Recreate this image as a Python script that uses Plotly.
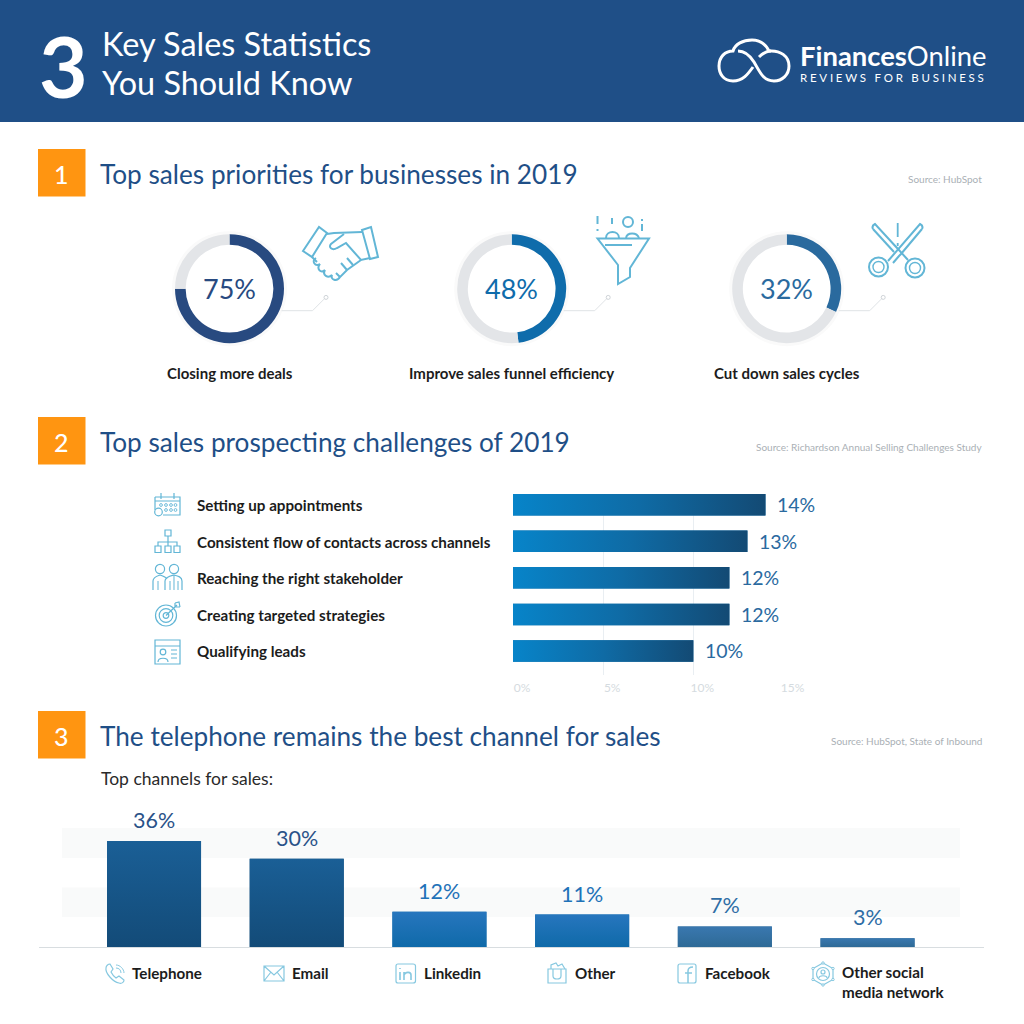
import re
import plotly.graph_objects as go

# ---------- data ----------
priority_labels = ["Closing more deals", "Improve sales funnel efficiency", "Cut down sales cycles"]
priority_values = [75, 48, 32]
priority_colors = ["#284a80", "#0f6cab", "#2a6a9e"]

challenge_labels = ["Setting up appointments", "Consistent flow of contacts across channels",
                    "Reaching the right stakeholder", "Creating targeted strategies", "Qualifying leads"]
challenge_values = [14, 13, 12, 12, 10]
challenge_ticks = [0, 5, 10, 15]

channel_labels = ["Telephone", "Email", "Linkedin", "Other", "Facebook", "Other social<br>media network"]
channel_values = [36, 30, 12, 11, 7, 3]
channel_top = ["#1a5f96", "#1a5f96", "#2776be", "#2776be", "#3a78b0", "#3a78b0"]
channel_bottom = ["#134b78", "#134b78", "#0f6aa9", "#0f6aa9", "#2e6a96", "#2e6a96"]
channel_text = ["#2a5288", "#2a5288", "#1f72b8", "#1f72b8", "#2f6da5", "#2f6da5"]
channel_label_x = [132, 292, 424, 575, 705, 842]

section_titles = ["Top sales priorities for businesses in 2019",
                  "Top sales prospecting challenges of 2019",
                  "The telephone remains the best channel for sales"]
section_sources = ["Source: HubSpot", "Source: Richardson Annual Selling Challenges Study",
                   "Source: HubSpot, State of Inbound"]

# ---------- helpers (page pixels -> paper) ----------
S = 1024.0
FONT = "Lato"
NAVY = "#1f4f87"
ICON = "#62b6d6"
ICON2 = "#86c8e0"
PAD = 2  # annotation box padding, compensated for edge-anchored text
shapes, annos = [], []


def fx(x):
    return x / S


def fy(y):
    return 1 - y / S


def txt(x, y, text, size, color, anchor="left", weight=None, bold=False):
    f = dict(family=FONT, size=size, color=color)
    if weight:
        f["weight"] = weight
    if bold:
        f["weight"] = 700
    shift = {"left": -PAD, "right": PAD, "center": 0}[anchor]
    annos.append(dict(xref="paper", yref="paper", x=fx(x + shift), y=fy(y), text=text, showarrow=False,
                      xanchor=anchor, yanchor="middle", font=f, align="left"))


def rect(x0, y0, x1, y1, fill, layer="below"):
    shapes.append(dict(type="rect", xref="paper", yref="paper", x0=fx(x0), x1=fx(x1), y0=fy(y0), y1=fy(y1),
                       fillcolor=fill, line=dict(width=0), layer=layer))


def path(d, color=ICON, w=1.2, fill=None):
    toks = re.findall(r"[MLCZ]|-?[\d.]+", d)
    out, i = [], 0
    for t in toks:
        if t in "MLCZ":
            out.append(t)
        else:
            out.append(f"{fx(float(t)):.5f}" if i % 2 == 0 else f"{fy(float(t)):.5f}")
            i += 1
    shapes.append(dict(type="path", xref="paper", yref="paper", path=" ".join(out),
                       line=dict(color=color, width=w), fillcolor=fill or "rgba(0,0,0,0)", layer="above"))


def circ(cx, cy, r, color=ICON, w=1.2, fill=None, layer="above"):
    shapes.append(dict(type="circle", xref="paper", yref="paper", x0=fx(cx - r), x1=fx(cx + r),
                       y0=fy(cy + r), y1=fy(cy - r), line=dict(color=color, width=w),
                       fillcolor=fill or "rgba(0,0,0,0)", layer=layer))


fig = go.Figure()

# ---------- header ----------
rect(0, 0, 1024, 122, NAVY)
txt(39, 65, "3", 84, "#ffffff", bold=True)
txt(102, 43, "Key Sales Statistics", 32.4, "#ffffff")
txt(102, 82, "You Should Know", 32.4, "#ffffff")
txt(800, 55, "<b>Finances</b>Online", 27.4, "#ffffff")
txt(800, 77, '<span style="letter-spacing:2.75px">REVIEWS FOR BUSINESS</span>', 11.5, "#ffffff")
path("M733 81 C723 81 719 73 719 66 C719 57 725 51 733 51 C735 44 743 40 752 40 C760 40 766 45 769 51 "
     "C780 50 789 56 789 66 C789 75 782 81 774 81 C763 81 760 72 754 62 C749 54 744 51 738 51", "#ffffff", 3)
path("M733 81 C743 81 748 74 753 67", "#ffffff", 3)
path("M759 57 C763 53 767 51 771 51", "#ffffff", 3)

# ---------- section headers ----------
for i, (top, title, src) in enumerate(zip([149, 417, 711], section_titles, section_sources)):
    rect(38, top, 85.5, top + 47.5, "#ff9511")
    txt(61.7, top + 25, str(i + 1), 25, "#ffffff", anchor="center", weight=500)
    txt(100, top + 25, title, 26.2, NAVY)
    txt(982, top + 30, src, 10, "#aab0b5", anchor="right")

# ---------- donuts ----------
centers = [229.5, 511.7, 786.7]
CY, R = 288.7, 54.5
for cx, val, col, lab in zip(centers, priority_values, priority_colors, priority_labels):
    circ(cx, CY, R + 3, "#fafafa", 0, "#fafafa", layer="below")
    circ(cx, CY, R - 8, "#ffffff", 0, "#ffffff", layer="below")
    fig.add_trace(go.Pie(values=[val, 100 - val], sort=False, direction="clockwise", rotation=0,
                         hole=0.805, textinfo="none", hoverinfo="skip", showlegend=False,
                         marker=dict(colors=[col, "#e3e5e8"], line=dict(width=0)),
                         domain=dict(x=[fx(cx - R), fx(cx + R)], y=[fy(CY + R), fy(CY - R)])))
    txt(cx, CY, f"{val}%", 27, col, anchor="center")
    txt(cx, 373, lab, 15, "#1c1c1c", anchor="center", bold=True)
    path(f"M{cx + 52} {CY + 22} L{cx + 83} {CY + 22} L{cx + 95} {CY + 10}", "#dfe3e6", 1)
    circ(cx + 96.5, CY + 8.7, 2, "#cfd4d8", 1)

# handshake
path("M303 251 L319 227 L327 233 L312 257 Z", ICON, 2)
path("M362 230 L371 227 L378 257 L370 259 Z", ICON, 2)
path("M327 234 L334 233 L362 232", ICON, 2)
path("M370 258 L361 260 L346 243 L337 248 C332 251 328 247 331 244 L344 234", ICON, 2)
path("M312 257 L317 262", ICON, 2)
path("M316 258 C311 261 315 267 320 264 C316 269 321 274 325 270 C322 275 328 279 332 275 C330 280 337 282 340 277 L347 270 L361 260", ICON, 2)
path("M340 277 L336 273 M347 270 L341 263 M353 265 L347 258", ICON, 2)
# funnel
path("M597.5 238.5 L649 238.5 L630 268 L630 277 L618 284 L618 265 Z", ICON, 2)
path("M605 245 L632 245", ICON, 2)
path("M606 238 C606 230 619 230 619 238", ICON, 2)
path("M626 238 C627 232 637 232 639 238", ICON, 2)
circ(628, 222, 5, ICON, 2)
path("M597.5 216 L597.5 224 M597.5 229 L597.5 231", ICON, 2)
path("M642 219 L642 221 M642 224 L642 231 M612 218 L612 224", ICON, 2)
# scissors
path("M873 229 C872 227 873 225 875 224 L898 249 L908 260", ICON, 2)
path("M873 229 L894 252", ICON, 2)
path("M922 229 C923 227 922 225 920 224 L888 261", ICON, 2)
path("M922 229 L901 254 L899 256 L893 263", ICON, 2)
circ(878.5, 267, 9.5, ICON, 2)
circ(878.5, 267, 5.5, ICON, 1.4)
circ(915, 268, 9.5, ICON, 2)
circ(915, 268, 5.5, ICON, 1.4)
path("M897.7 223 L897.7 237 M897.7 243 L897.7 246", ICON, 1.8)

# ---------- small icons, row list ----------
for y, lab in zip([505, 541.5, 578, 614.5, 651], challenge_labels):
    txt(197, y, lab, 15.2, "#1c1c1c", bold=True)
# calendar
path("M155 497 L180 497 L180 515 L163 515 M155 497 L155 510 M155 501 L180 501", ICON)
path("M161 493 L161 499 M174 493 L174 499", ICON)
for cx_ in (161, 166, 171, 175.5):
    for cy_ in (505, 510):
        if not (cx_ == 161 and cy_ == 510):
            circ(cx_, cy_, 1.4, ICON, 0.9)
circ(158.5, 512, 3.8, ICON)
# org chart
path("M165 530 L171 530 L171 536 L165 536 Z M168 536 L168 542 M158 546 L158 542 L177 542 L177 546 M168 542 L168 546", ICON)
path("M155 546 L161 546 L161 552.5 L155 552.5 Z M165 546 L171 546 L171 552.5 L165 552.5 Z M174 546 L180 546 L180 552.5 L174 552.5 Z", ICON)
# people
circ(160, 569, 4.6, ICON)
circ(174, 569, 4.6, ICON)
path("M153 590 L153 581 C153 577 157 576 160 575 C163 576 166 577 167 579", ICON)
path("M165 590 L165 581 C165 577 170 576 174 575 C178 576 182 577 182 581 L182 590", ICON)
path("M158 581 L158 590 M170 581 L170 590 M178 581 L178 590 M174 575 L174 590", ICON, 1)
# target
circ(166, 615.5, 10.5, ICON)
circ(166, 615.5, 6.8, ICON)
circ(166, 615.5, 2.8, ICON)
path("M166 615.5 L177 605 M175 603 L175 607 L180 607 M175 603 L179 602 L180 607", ICON)
# lead card
path("M155 640 L180 640 L180 664 L155 664 Z M155 646 L180 646", ICON)
circ(163, 652, 2.8, ICON)
path("M158 662 C158 657 168 657 168 662 M171 650 L177 650 M171 654 L177 654 M171 658 L177 658", ICON)

# ---------- small icons, channels ----------
for x_, lab in zip(channel_label_x, channel_labels):
    txt(x_, 973 if "<br>" not in lab else 982, lab, 15.2, "#1c1c1c", bold=True)
# phone
path("M106 968 C105 973 113 982 119 983 C122 984 124 982 124 980 L119 976 L116 978 C113 976 112 974 111 972 L113 969 L110 964 C108 964 106 966 106 968 Z", ICON2)
path("M116 968 C119 968 121 970 121 973 M116 965 C120 965 124 969 124 973", ICON2, 1)
# email
path("M264 966 L284 966 L284 981 L264 981 Z M264 966 L274 975 L284 966 M264 981 L271 972 M284 981 L277 972", ICON2)
# linkedin
path("M398 964 L413 964 C415 964 415.5 965 415.5 966 L415.5 981 C415.5 982 415 983 413 983 L398 983 C397 983 396 982 396 981 L396 966 C396 965 397 964 398 964 Z", ICON2)
path("M400 972 L400 980 M400 968 L400 969 M404 980 L404 972 M404 975 C406 971 411 972 411 975 L411 980", ICON2, 1.6)
# bag
path("M548 969 L566 969 L566 983 L548 983 Z M553 969 L553 976 C553 980 561 980 561 976 L561 969", ICON2)
path("M551 969 L551 965 L556 963 L558 966 L562 964 L565 969", ICON2)
# facebook
path("M680 964 L694 964 C695 964 696 965 696 966 L696 981 C696 982 695 983 694 983 L680 983 C679 983 678 982 678 981 L678 966 C678 965 679 964 680 964 Z", ICON2)
path("M688 983 L688 971 C688 968 690 967 693 967 M685 973 L692 973", ICON2, 1.5)
# network
path("M823 963 L833 968.5 L833 979.5 L823 985 L813 979.5 L813 968.5 Z", ICON2)
circ(823, 974, 6.5, ICON2)
circ(823, 972, 2, ICON2)
path("M819 978 C819 975 827 975 827 978", ICON2)
for (a, b) in [(823, 963), (833, 968.5), (833, 979.5), (823, 985), (813, 979.5), (813, 968.5)]:
    circ(a, b, 1.2, ICON2, 1, "#ffffff")

txt(101, 778, "Top channels for sales:", 17.5, "#2a2a2a")

# ---------- horizontal bars (axes x / y) ----------
row_idx = list(range(len(challenge_values)))
BH = 0.589
fig.add_trace(go.Bar(x=challenge_values, y=row_idx, orientation="h", width=BH, marker=dict(color="#0f6ba5", line=dict(width=0)),
                     customdata=challenge_labels, hoverinfo="skip", showlegend=False, xaxis="x", yaxis="y"))
for i, v in zip(row_idx, challenge_values):
    fig.add_trace(go.Scatter(x=[0, v, v, 0, 0], y=[i - BH / 2, i - BH / 2, i + BH / 2, i + BH / 2, i - BH / 2],
                             mode="lines", line=dict(width=0), fill="toself", hoverinfo="skip", showlegend=False,
                             fillgradient=dict(type="horizontal",
                                               colorscale=[[0, "#0784c9"], [0.5, "#0f6ba5"], [1, "#134a74"]]),
                             xaxis="x", yaxis="y"))
    annos.append(dict(xref="x", yref="y", x=v, y=i, text=f"{v}%", showarrow=False, xanchor="left", yanchor="middle",
                      xshift=10, font=dict(family=FONT, size=19.5, color="#2a6a9f")))

# ---------- vertical bars (axes x2 / y2) ----------
col_idx = list(range(len(channel_values)))
BW = 0.659
fig.add_trace(go.Bar(x=col_idx, y=channel_values, width=BW, marker=dict(color=channel_bottom, line=dict(width=0)),
                     customdata=channel_labels, hoverinfo="skip", showlegend=False, xaxis="x2", yaxis="y2"))
for i, v, top, bot, tc in zip(col_idx, channel_values, channel_top, channel_bottom, channel_text):
    fig.add_trace(go.Scatter(x=[i - BW / 2, i + BW / 2, i + BW / 2, i - BW / 2, i - BW / 2], y=[0, 0, v, v, 0],
                             mode="lines", line=dict(width=0), fill="toself", hoverinfo="skip", showlegend=False,
                             fillgradient=dict(type="vertical", colorscale=[[0, bot], [1, top]]),
                             xaxis="x2", yaxis="y2"))
    annos.append(dict(xref="x2", yref="y2", x=i, y=v, text=f"{v}%", showarrow=False, xanchor="center", yanchor="middle",
                      yshift=21, font=dict(family=FONT, size=21.5, color=tc)))
# light bands behind the vertical bars
rect(62, 828, 960, 858, "#f9fafa")
rect(62, 887.5, 960, 917, "#f9fafa")

V_PX = 2.944
fig.update_layout(
    width=1024, height=1024, margin=dict(l=0, r=0, t=0, b=0, autoexpand=False), autosize=False,
    paper_bgcolor="#ffffff", plot_bgcolor="rgba(0,0,0,0)", showlegend=False,
    barmode="overlay", shapes=shapes, annotations=annos,
    font=dict(family=FONT),
    xaxis=dict(domain=[fx(513), fx(783.5)], range=[0, 15], tickmode="array", tickvals=challenge_ticks,
               ticktext=[f"{t}%" for t in challenge_ticks], showgrid=True, gridcolor="#e9eef2", gridwidth=1,
               zeroline=False, showline=False, ticks="", ticklabelshift=9, ticklabelstandoff=4,
               tickfont=dict(family=FONT, size=12, color="#d5dbe0"), anchor="y", fixedrange=True),
    yaxis=dict(domain=[fy(675), fy(494)], range=[4.658, -0.2945], showgrid=False, zeroline=False, showline=False,
               showticklabels=False, ticks="", anchor="x", fixedrange=True),
    xaxis2=dict(domain=[fx(39), fx(984)], range=[-0.806, 5.816], showgrid=False, zeroline=False, showline=True,
                linecolor="#d8dde0", linewidth=1, showticklabels=False, ticks="", anchor="y2", fixedrange=True),
    yaxis2=dict(domain=[fy(947), fy(800)], range=[0, 147 / V_PX], showgrid=False, zeroline=False, showline=False,
                showticklabels=False, ticks="", anchor="x2", fixedrange=True),
)

fig.write_html("out.html", config=dict(displayModeBar=False),
               post_script="document.body.style.margin='0';")
